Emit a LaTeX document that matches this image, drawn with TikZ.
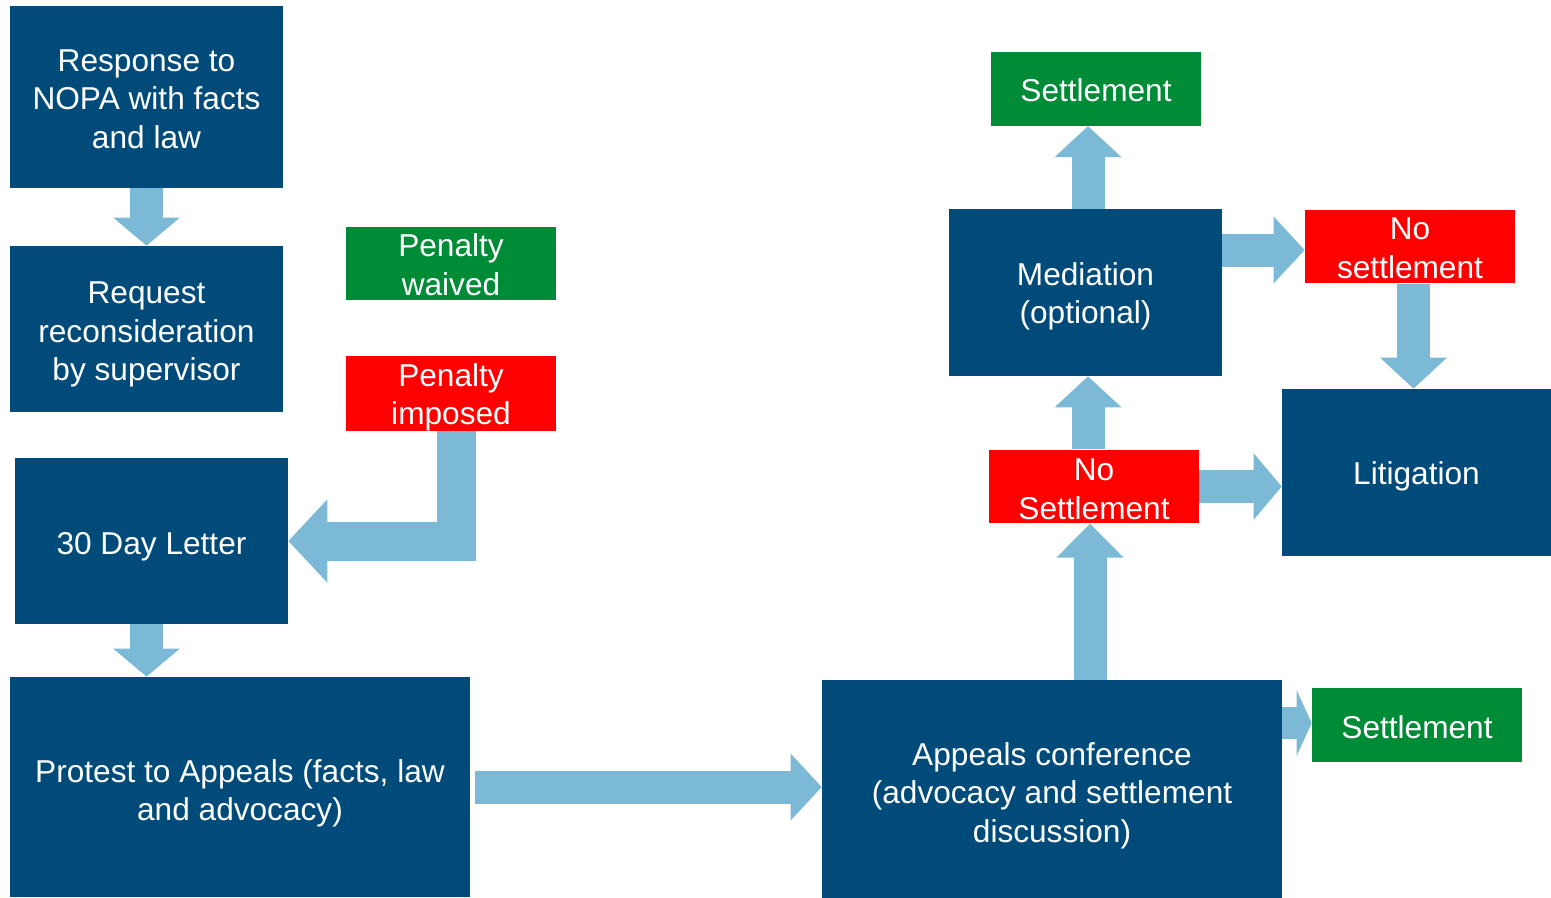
\documentclass[tikz,border=0pt]{standalone}
\usepackage{fontspec}
\setmainfont{Liberation Sans}
\usetikzlibrary{arrows.meta}
\definecolor{navy}{RGB}{0,75,122}
\definecolor{skyblue}{RGB}{123,185,214}
\definecolor{okgreen}{RGB}{0,140,55}
\definecolor{nored}{RGB}{255,0,0}
\newcommand{\drop}[1]{\rule{0pt}{#1}}

\begin{document}
\begin{tikzpicture}[x=0.02cm, y=-0.02cm,
		box/.style={fill=navy, text=white, align=center, inner sep=0pt, font=\fontsize{18}{21.8}\selectfont},
		bigbox/.style={box, minimum width=5.46cm, minimum height=3.32cm},
		widebox/.style={box, minimum width=9.2cm, minimum height=4.36cm},
		tag/.style={box, minimum width=4.2cm, minimum height=1.47cm},
		goodtag/.style={tag, fill=okgreen},
		badtag/.style={tag, fill=nored},
		bigarrow/.style={skyblue, line width=0.66cm, -{Triangle[width=1.3cm, length=0.62cm]}}]
			\useasboundingbox (0,0) rectangle (1551,897);
			
			% left column
			\node[bigbox, minimum height=3.64cm] (response) at (146.5,97) {\drop{14.7pt}Response to\\NOPA with facts\\and law};
			\node[bigbox] (recon) at (146.5,329) {\drop{18.6pt}Request\\reconsideration\\by supervisor};
			\node[goodtag] (waived) at (451,263.5) {\drop{14.3pt}Penalty\\waived};
			\node[badtag] (imposed) at (451,393.5) {\drop{17pt}Penalty\\imposed};
			\node[bigbox] (letter) at (151.5,541) {\drop{18.8pt}30 Day Letter};
			\node[widebox, minimum height=4.4cm] (protest) at (240,787) {\drop{20pt}Protest to Appeals (facts, law\\and advocacy)};
			
			% right part
			\node[widebox] (appeals) at (1052,789) {\drop{20.5pt}Appeals conference\\(advocacy and settlement\\discussion)};
			\node[goodtag] (settleB) at (1417,725) {\drop{15pt}Settlement};
			\node[badtag] (nosettleM) at (1094,486.5) {\drop{15.5pt}No\\Settlement};
			\node[bigbox, minimum height=3.34cm] (mediation) at (1085.5,292.5) {\drop{17pt}Mediation\\(optional)};
			\node[goodtag] (settleT) at (1096,89) {\drop{14.5pt}Settlement};
			\node[badtag] (nosettleR) at (1410,246.5) {\drop{14.5pt}No\\settlement};
			\node[bigbox, minimum width=5.38cm, minimum height=3.34cm] (litig) at (1416.5,472.5) {\drop{17.5pt}Litigation};
			
			% arrows
			\draw[bigarrow, -{Triangle[width=1.3cm, length=0.56cm]}] (response.south) -- (recon.north);
			\draw[skyblue, line width=0.78cm, line join=miter, -{Triangle[width=1.62cm, length=0.78cm]}] ([xshift=0.1cm]imposed.south) |- (letter.east);
			\draw[bigarrow, -{Triangle[width=1.3cm, length=0.56cm]}] ([xshift=-0.1cm]letter.south) -- ([xshift=-0.1cm]letter.south |- protest.north);
			\draw[bigarrow] ([xshift=0.1cm]protest.east) -- (protest.east -| appeals.west);
			
			\draw[bigarrow, -{Triangle[width=1.3cm, length=0.68cm]}] ([xshift=-0.08cm]nosettleM.south |- appeals.north) -- ([xshift=-0.08cm]nosettleM.south);
			\draw[bigarrow] ([xshift=0.05cm]mediation.south |- nosettleM.north) -- ([xshift=0.05cm]mediation.south);
			\draw[bigarrow] ([xshift=0.05cm]mediation.north) -- ([xshift=0.05cm]mediation.north |- settleT.south);
			\draw[bigarrow] ([yshift=-0.07cm]mediation.east |- nosettleR.west) -- ([yshift=-0.07cm]nosettleR.west);
			\draw[bigarrow] ([xshift=0.07cm]nosettleR.south) -- ([xshift=0.07cm]nosettleR.south |- litig.north);
			\draw[bigarrow, -{Triangle[width=1.3cm, length=0.56cm]}] (nosettleM.east) -- (nosettleM.east -| litig.west);
			\draw[bigarrow, line width=0.64cm, -{Triangle[width=1.3cm, length=0.3cm]}] ([yshift=0.04cm]appeals.east |- settleB.west) -- ([yshift=0.04cm]settleB.west);
		\end{tikzpicture}
\end{document}
